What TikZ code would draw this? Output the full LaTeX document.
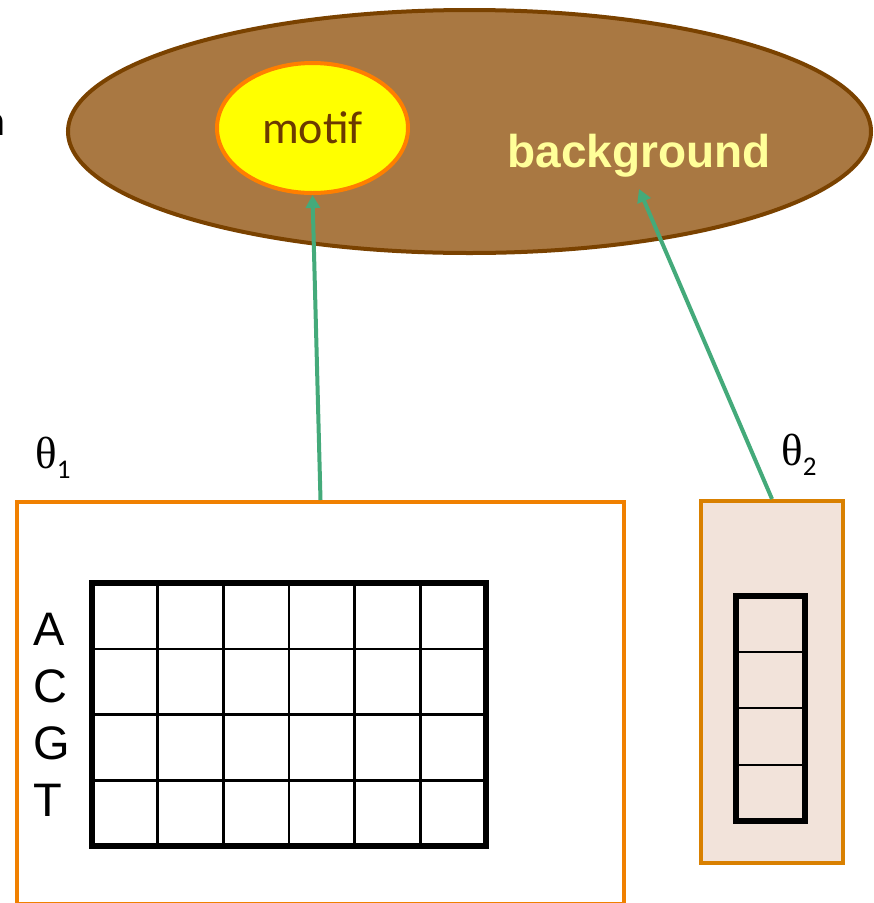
\documentclass[tikz,border=0pt]{standalone}
\usepackage{fontspec}
\setmainfont{Liberation Serif}
\newfontfamily\arialf{Liberation Sans}
\newfontfamily\calf{Carlito}
\usetikzlibrary{shapes.geometric,arrows.meta}
\definecolor{bigfill}{HTML}{A97842}
\definecolor{bigline}{HTML}{7A4200}
\definecolor{motfill}{HTML}{FFFF00}
\definecolor{motline}{HTML}{FF7F00}
\definecolor{mottext}{HTML}{6B3A00}
\definecolor{bgtext}{HTML}{FFFF99}
\definecolor{linkgreen}{HTML}{44AA7A}
\definecolor{boxorange}{HTML}{F08000}
\definecolor{boxorange2}{HTML}{D98000}
\definecolor{boxfill}{HTML}{F2E3DA}
\tikzset{
  link/.style={draw=linkgreen, line width=4pt, -{Triangle[length=13pt,width=14pt]}},
  letter/.style={font=\arialf\fontsize{47}{50}\selectfont, anchor=base west, inner sep=0pt},
  thetalab/.style={font=\fontsize{45}{50}\selectfont, anchor=base west, inner sep=0pt},
  gridthin/.style={line width=2.5pt, black},
  gridthick/.style={line width=6pt, black},
}
\newcommand{\subdig}[1]{\raisebox{-10pt}{\calf\fontsize{27}{30}\selectfont #1}}
\begin{document}
\begin{tikzpicture}[x=1pt,y=-1pt]
\useasboundingbox (0,0) rectangle (874,903);
\fill[white] (0,0) rectangle (874,903);

% clipped text at left edge
\node[font=\calf\fontsize{44}{50}\selectfont, anchor=base east, inner sep=0pt] (cut) at (6,135) {n};

% big ellipse
\node[ellipse, draw=bigline, fill=bigfill, line width=4pt, minimum width=803pt, minimum height=243pt, inner sep=0pt] (big) at (469.5,131.5) {};
\node[ellipse, draw=motline, fill=motfill, line width=4pt, minimum width=191pt, minimum height=130pt, inner sep=0pt,
      font=\calf\fontsize{46}{50}\selectfont, text=mottext] (motif) at (312.5,128) {motif};
\node[font=\arialf\bfseries\fontsize{46}{50}\selectfont, text=bgtext, inner sep=0pt, anchor=base] (bg) at (639,167) {background};
\coordinate (bgtip) at (639,189);

% boxes
\node[draw=boxorange, line width=4pt, fill=white, minimum width=607pt, minimum height=402pt, inner sep=0pt, anchor=north west] (lbox) at (15,500) {};
\node[draw=boxorange2, line width=4pt, fill=boxfill, minimum width=142pt, minimum height=362pt, inner sep=0pt, anchor=north west] (rbox) at (699,499) {};

% labels
\node[thetalab] (t1) at (35,468) {θ\subdig{1}};
\node[thetalab] (t2) at (781,465) {θ\subdig{2}};

% ACGT
\node[letter] (la) at (33,645) {A};
\node[letter] (lc) at (33,702) {C};
\node[letter] (lg) at (33,759) {G};
\node[letter] (lt) at (33,816) {T};

% grid
\foreach \i in {1,...,5} \draw[gridthin] ({92+65.67*\i},583) -- ({92+65.67*\i},846);
\foreach \j in {1,2,3} \draw[gridthin] (92,{583+65.75*\j}) -- (486,{583+65.75*\j});
\draw[gridthick] (92,583) rectangle (486,846);

% column
\foreach \j in {652,708,765} \draw[gridthin] (736,\j) -- (805,\j);
\draw[gridthick] (736,596) rectangle (805,821);

% arrows
\draw[link] (lbox.north) -- (motif.south);
\draw[link] (rbox.north) -- (bgtip);
\end{tikzpicture}
\end{document}
